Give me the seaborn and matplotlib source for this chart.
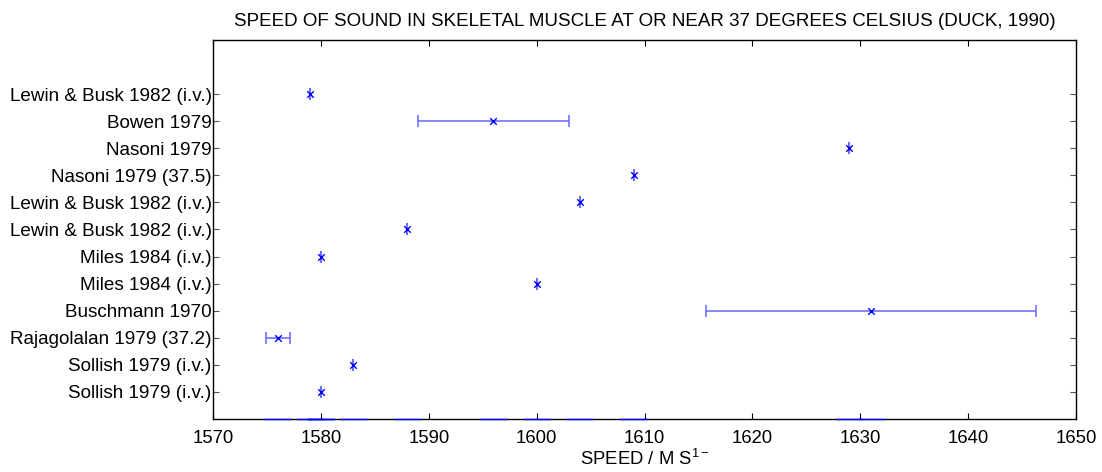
import matplotlib
matplotlib.use("Agg")
import matplotlib.pyplot as plt
import seaborn as sns
import pandas as pd
import numpy as np

# Studies, listed top to bottom
studies = [
    "Lewin & Busk 1982 (i.v.)",
    "Bowen 1979",
    "Nasoni 1979",
    "Nasoni 1979 (37.5)",
    "Lewin & Busk 1982 (i.v.)",
    "Lewin & Busk 1982 (i.v.)",
    "Miles 1984 (i.v.)",
    "Miles 1984 (i.v.)",
    "Buschmann 1970",
    "Rajagolalan 1979 (37.2)",
    "Sollish 1979 (i.v.)",
    "Sollish 1979 (i.v.)",
]
speed = [1579, 1596, 1629, 1609, 1604, 1588, 1580, 1600, 1631, 1576, 1583, 1580]
spread = [0, 7, 0, 0, 0, 0, 0, 0, 15.3, 1.1, 0, 0]
x_ticks = [1570, 1580, 1590, 1600, 1610, 1620, 1630, 1640, 1650]

sns.set_theme(style="ticks")
plt.rcParams["font.family"] = ["Liberation Sans", "DejaVu Sans"]
plt.rcParams["mathtext.fontset"] = "custom"
plt.rcParams["mathtext.rm"] = "Liberation Sans"
plt.rcParams["mathtext.it"] = "Liberation Sans"
plt.rcParams["text.color"] = "black"
plt.rcParams["axes.labelcolor"] = "black"
plt.rcParams["xtick.labelcolor"] = "black"
plt.rcParams["ytick.labelcolor"] = "black"

n = len(studies)
df = pd.DataFrame({
    "study": studies,
    "speed": speed,
    "spread": spread,
    "row": np.arange(n, 0, -1),
})

fig = plt.figure(figsize=(11.02, 4.72), dpi=100)
ax = fig.add_axes([0.1933, 0.1123, 0.7831, 0.8030])

ax.errorbar(df["speed"], df["row"], xerr=df["spread"], fmt="none",
            ecolor="#6464ff", elinewidth=1.1, capsize=4.6, capthick=1.1,
            zorder=2)
sns.scatterplot(data=df, x="speed", y="row", marker="x", color="#0000ff",
                s=22, linewidth=1.0, ax=ax, zorder=3, legend=False)

# short marks on the baseline at every value
ax.hlines(np.zeros(n), df["speed"] - 1.25, df["speed"] + 1.25,
          colors="#0000ff", linewidth=1.0, clip_on=False, zorder=5)

ax.set_xlim(1570, 1650)
ax.set_ylim(0, n + 2)
ax.set_xticks(x_ticks)
ax.set_yticks(df["row"])
ax.set_yticklabels(df["study"])

for side in ["top", "right", "bottom", "left"]:
    ax.spines[side].set_visible(True)
    ax.spines[side].set_color("black")
    ax.spines[side].set_linewidth(1.0)

ax.tick_params(axis="x", direction="in", length=4, width=0.8, color="black",
               top=True, labelsize=13.3, pad=8)
ax.tick_params(axis="y", direction="in", length=4, width=0.8, color="#555555",
               right=True, labelsize=13.6, pad=1)

ax.set_xlabel(r"SPEED / M S$^{1-}$", fontsize=13.3, labelpad=1)
ax.set_ylabel("")
ax.set_title("SPEED OF SOUND IN SKELETAL MUSCLE AT OR NEAR 37 DEGREES CELSIUS (DUCK, 1990)",
             fontsize=13.5, pad=10, color="black")

fig.savefig("out.png", dpi=100, facecolor="white")
